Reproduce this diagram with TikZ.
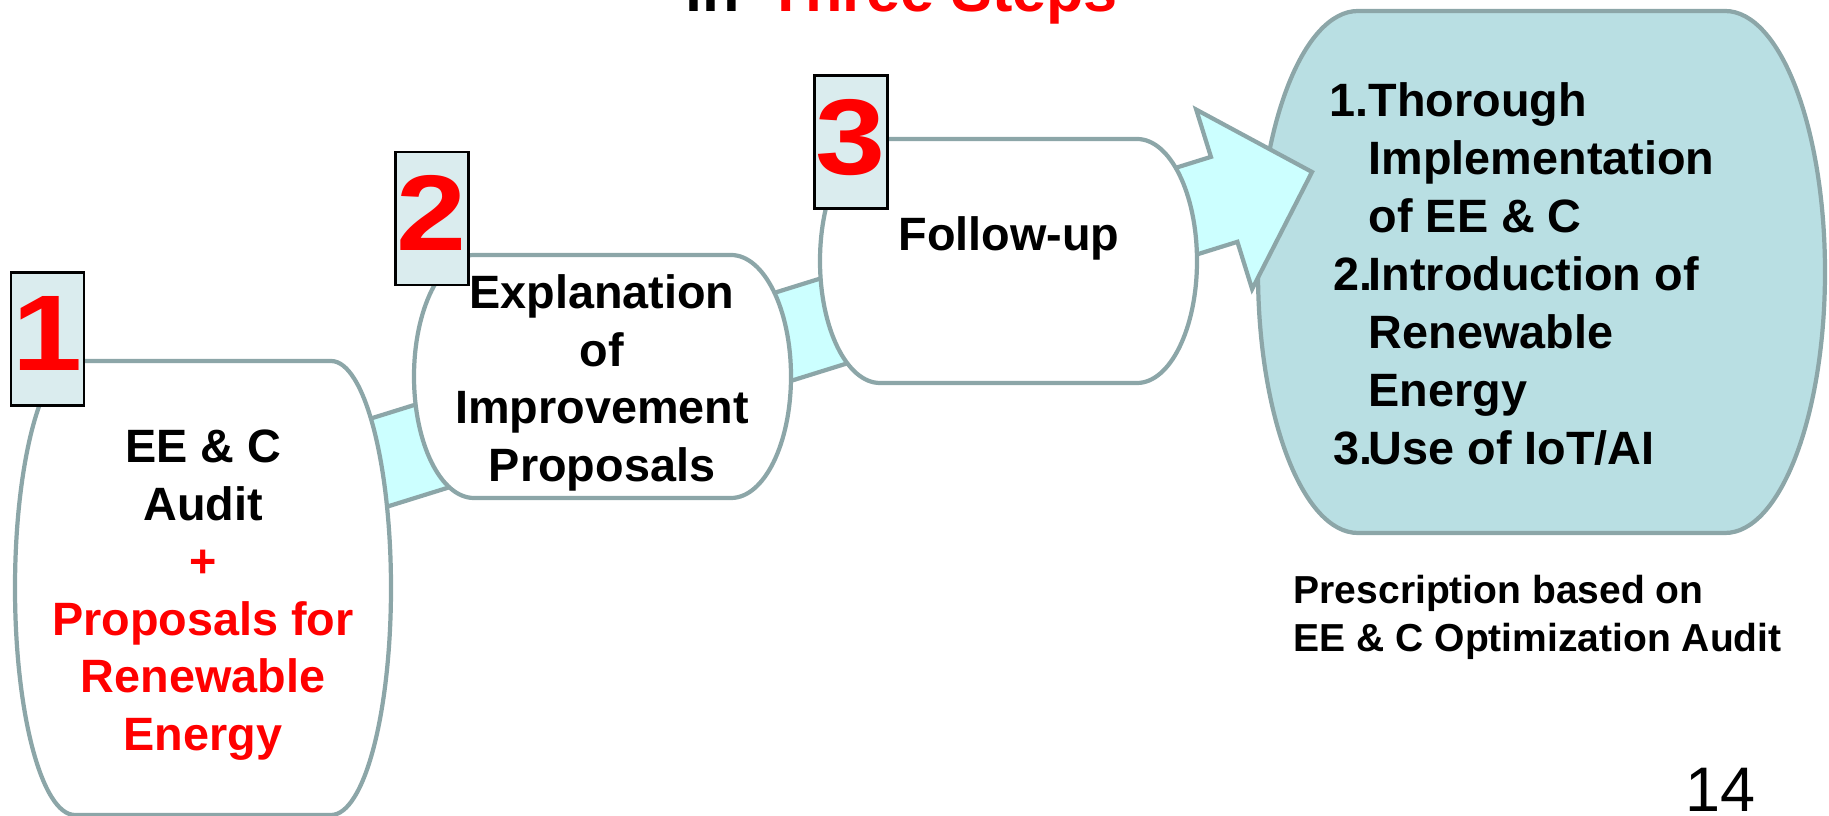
\documentclass[tikz,border=0pt]{standalone}
\usepackage{fontspec}
\setmainfont{Liberation Sans}
\usepackage{tikz}
\usetikzlibrary{positioning}
\definecolor{stepgrey}{RGB}{140,166,168}
\definecolor{flowcyan}{RGB}{204,255,255}
\definecolor{tagfill}{RGB}{218,236,238}
\definecolor{resultteal}{RGB}{185,223,227}
\definecolor{stepred}{RGB}{255,0,0}
\tikzstyle{outline} = [draw=stepgrey, line width=1.2pt]

% step outline: flat top and bottom, half-ellipse sides
% #1 style, #2 left x, #3 right x, #4 top y, #5 bottom y, #6 side radius
\newcommand{\stepbarrel}[6]{%
  \draw[#1] (#2,#4) -- (#3,#4)
    .. controls ({#3+0.552*#6},#4) and ({#3+#6},{(#4+#5)/2-0.276*(#5-#4)}) .. ({#3+#6},{(#4+#5)/2})
    .. controls ({#3+#6},{(#4+#5)/2+0.276*(#5-#4)}) and ({#3+0.552*#6},#5) .. (#3,#5)
    -- (#2,#5)
    .. controls ({#2-0.552*#6},#5) and ({#2-#6},{(#4+#5)/2+0.276*(#5-#4)}) .. ({#2-#6},{(#4+#5)/2})
    .. controls ({#2-#6},{(#4+#5)/2-0.276*(#5-#4)}) and ({#2-0.552*#6},#4) .. (#2,#4) -- cycle;}

\begin{document}
\begin{tikzpicture}[
    x=0.01cm, y=-0.01cm,
    steptext/.style={font=\bfseries\fontsize{13.3}{16.35}\selectfont, align=center, inner sep=0pt},
    listtext/.style={font=\bfseries\fontsize{13.3}{16.45}\selectfont, inner sep=0pt},
    notetext/.style={font=\bfseries\fontsize{11.1}{13.4}\selectfont, align=left, inner sep=0pt},
    tag/.style={draw=black, line width=0.8pt, fill=tagfill, minimum width=0.73cm, minimum height=1.33cm,
                inner sep=0pt, text depth=3pt, text=stepred, font=\bfseries\fontsize{30.6}{30.6}\selectfont}
]
\useasboundingbox (0,0) rectangle (1829,816);

% Result
\stepbarrel{outline, fill=resultteal}{1358}{1725}{11}{533}{100}

% Flow arrow behind the steps
\coordinate (tip) at (1312,172);
\begin{scope}[shift={(tip)}, rotate=17.3]
\draw[outline, fill=flowcyan] (0,0) -- (-92,-94) -- (-92,-44.5) -- (-1150,-44.5)
    -- (-1150,44.5) -- (-92,44.5) -- (-92,94) -- cycle;
\end{scope}

% Steps
\stepbarrel{outline, fill=white}{75}{331}{361}{815}{60}
\stepbarrel{outline, fill=white}{474}{731}{255}{498}{60}
\stepbarrel{outline, fill=white}{880}{1137}{139}{383}{60}

\node[steptext] (audit) at (203,595) {EE \& C\\Audit\\\textcolor{stepred}{+}\\\textcolor{stepred}{Proposals for}\\\textcolor{stepred}{Renewable}\\\textcolor{stepred}{Energy}};
\node[steptext] (explain) at (602,383) {Explanation\\of\\Improvement\\Proposals};
\node[steptext, anchor=base] (follow) at (1009,251) {Follow-up};

% Result text
\node[listtext, anchor=base west] (result) at (1368,117) {%
  \begin{tabular}[t]{@{}l@{}}
  \llap{1.}Thorough\\
  Implementation\\
  of EE \& C\\
  \llap{2.\hspace{-1pt}}Introduction of\\
  Renewable\\
  Energy\\
  \llap{3.\hspace{-1pt}}Use of IoT/AI
  \end{tabular}};
\node[notetext, anchor=north west] (basis) at (1293,575) {Prescription based on\\EE \& C Optimization Audit};

% Number tags
\node[tag] (tag1) at (47.5,339) {\scalebox{1.17}[1]{1}};
\node[tag] (tag2) at (432,218.5) {\scalebox{1.17}[1]{2}};
\node[tag] (tag3) at (851,142) {\scalebox{1.17}[1]{3}};

% Title and page number
\node[font=\bfseries\fontsize{17.4}{20}\selectfont, anchor=base west, inner sep=0pt] (title) at (685,12) {in\hspace{0.45em}\textcolor{stepred}{Three Steps}};
\node[font=\fontsize{17.9}{20}\selectfont, anchor=base, inner sep=0pt] (page) at (1720,812) {14};
\end{tikzpicture}
\end{document}
